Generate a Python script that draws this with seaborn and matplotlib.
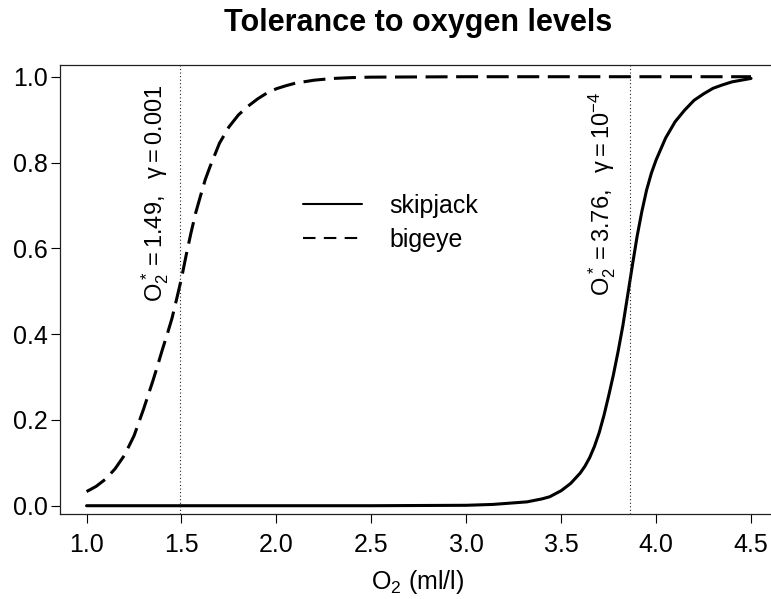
import matplotlib
matplotlib.use("Agg")
import matplotlib.pyplot as plt
from matplotlib.lines import Line2D
import seaborn as sns
import pandas as pd

# Tolerance curves (proportion of tolerance vs dissolved oxygen, ml/l)
skipjack_o2 = [1.0, 1.5, 2.0, 2.5, 3.0, 3.14, 3.2, 3.32, 3.4, 3.44, 3.5, 3.55,
               3.6, 3.625, 3.65, 3.675, 3.7, 3.725, 3.75, 3.775, 3.8, 3.825,
               3.85, 3.875, 3.9, 3.925, 3.95, 3.975, 4.0, 4.05, 4.1, 4.15,
               4.2, 4.25, 4.3, 4.35, 4.4, 4.45, 4.5]
skipjack_tol = [0.0, 0.0, 0.0, 0.0, 0.001, 0.003, 0.005, 0.009, 0.016, 0.021,
                0.035, 0.052, 0.076, 0.092, 0.112, 0.138, 0.170, 0.21, 0.256,
                0.305, 0.36, 0.42, 0.49, 0.56, 0.628, 0.686, 0.736, 0.775,
                0.806, 0.857, 0.895, 0.922, 0.945, 0.96, 0.973, 0.981, 0.988,
                0.992, 0.996]

bigeye_o2 = [1.0, 1.05, 1.1, 1.15, 1.2, 1.25, 1.3, 1.35, 1.375, 1.4, 1.425,
             1.45, 1.475, 1.5, 1.525, 1.55, 1.575, 1.6, 1.625, 1.65, 1.7,
             1.75, 1.8, 1.85, 1.9, 1.95, 2.0, 2.05, 2.1, 2.2, 2.3, 2.4, 2.5,
             3.0, 3.5, 4.0, 4.5]
bigeye_tol = [0.033, 0.045, 0.062, 0.086, 0.118, 0.163, 0.225, 0.292, 0.328,
              0.365, 0.40, 0.437, 0.483, 0.53, 0.585, 0.636, 0.683, 0.722,
              0.76, 0.79, 0.845, 0.883, 0.911, 0.931, 0.948, 0.962, 0.972,
              0.979, 0.985, 0.992, 0.996, 0.998, 0.999, 1.0, 1.0, 1.0, 1.0]

species = ["skipjack", "bigeye"]
thresholds = {"skipjack": 3.86, "bigeye": 1.49}
x_ticks = [1.0, 1.5, 2.0, 2.5, 3.0, 3.5, 4.0, 4.5]
y_ticks = [0.0, 0.2, 0.4, 0.6, 0.8, 1.0]

df = pd.concat([
    pd.DataFrame({"o2": skipjack_o2, "tol": skipjack_tol, "species": "skipjack"}),
    pd.DataFrame({"o2": bigeye_o2, "tol": bigeye_tol, "species": "bigeye"}),
], ignore_index=True)

sns.set_theme(style="white")
plt.rcParams["font.family"] = ["Liberation Sans", "DejaVu Sans"]
plt.rcParams["text.color"] = "black"
plt.rcParams["mathtext.fontset"] = "custom"
plt.rcParams["mathtext.rm"] = "Liberation Sans"
plt.rcParams["mathtext.it"] = "Liberation Sans"
plt.rcParams["mathtext.sf"] = "Liberation Sans"
plt.rcParams["mathtext.bf"] = "Liberation Sans:bold"

W, H = 771, 599
fig = plt.figure(figsize=(W / 100, H / 100), dpi=100)
ax = fig.add_axes([60 / W, 1 - 514.3 / H, (777.6 - 60) / W, (514.3 - 64.7) / H])

curve_dashes = {"skipjack": "", "bigeye": (7.2, 2.8)}
sns.lineplot(data=df, x="o2", y="tol", style="species", style_order=species,
             dashes=curve_dashes, color="black", linewidth=2.2, legend=False,
             sort=False, estimator=None, ax=ax)
for ln in ax.lines:
    ln.set_dash_capstyle("butt")
    ln.set_solid_joinstyle("round")
    ln.set_dash_joinstyle("round")

for sp in species:
    ax.axvline(thresholds[sp], color="#222222", linewidth=0.8,
               linestyle=(0, (1, 2.2)))

ax.set_xlim(0.86, 4.64)
ax.set_ylim(-0.020, 1.028)
ax.set_xticks(x_ticks)
ax.set_xticklabels([f"{v:.1f}" for v in x_ticks])
ax.set_yticks(y_ticks)
ax.set_yticklabels([f"{v:.1f}" for v in y_ticks])
ax.tick_params(axis="both", direction="out", length=6.8, width=0.8,
               color="black", labelsize=18, labelcolor="black",
               bottom=True, left=True)
ax.tick_params(axis="x", pad=6.5)
ax.tick_params(axis="y", pad=2.2)
ax.spines[["left", "bottom", "top"]].set_visible(True)
ax.spines["right"].set_visible(False)
for s in ax.spines.values():
    s.set_color("#222222")
    s.set_linewidth(0.9)
ax.set_xlabel(r"$\mathrm{O_2}$ (ml/l)", fontsize=18, color="black")
ax.set_ylabel("")
ax.xaxis.set_label_coords(0.4985, -0.120)
ax.xaxis.label.set_va("top")

fig.text(418 / W, 1 - 31 / H, "Tolerance to oxygen levels", fontsize=22,
         fontweight="bold", ha="center", va="baseline", color="black")

ax.text(1.361, 0.727, r"$O_2^*= 1.49,\ \ \gamma = 0.001$", rotation=90,
        ha="center", va="center", fontsize=17)
ax.text(3.715, 0.727, r"$O_2^*= 3.76,\ \ \gamma = 10^{-4}$", rotation=90,
        ha="center", va="center", fontsize=17)

handles = [
    Line2D([], [], color="black", linewidth=1.5),
    Line2D([], [], color="black", linewidth=1.5, linestyle=(0, (6, 4)),
           dash_capstyle="butt"),
]
fig.legend(handles, species, loc="center left",
           bbox_to_anchor=(303 / W, 1 - 222.5 / H), frameon=False,
           fontsize=18, handlelength=2.36, handletextpad=1.1,
           labelspacing=0.4, borderpad=0, borderaxespad=0,
           labelcolor="black")

fig.savefig("out.png", dpi=100)
